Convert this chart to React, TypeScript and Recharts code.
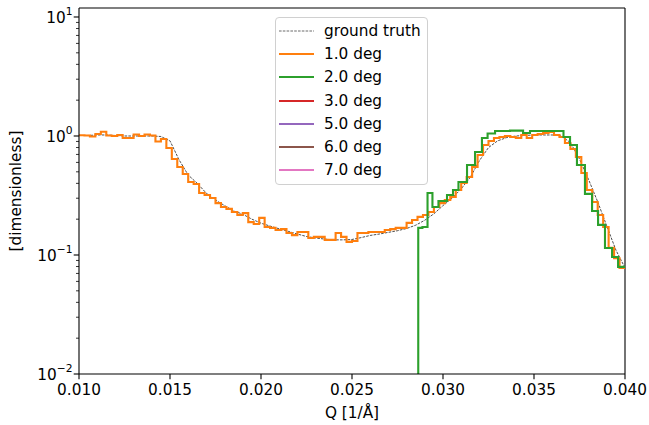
import React from 'react';
import { ComposedChart, Line, XAxis, YAxis, Legend, Label, ReferenceLine } from 'recharts';

const FONT = '"DejaVu Sans", sans-serif';
const FS = 15.3;

// Q axis (1/Å)
const X_TICKS = [0.01, 0.015, 0.02, 0.025, 0.03, 0.035, 0.04];
const X_MIN = 0.01;
const X_MAX = 0.04;
const Y_MIN = 0.01;
const Y_MAX = 11.9;
const Y_MAJOR = [0.01, 0.1, 1, 10];
const Y_MINOR = [
  0.02, 0.03, 0.04, 0.05, 0.06, 0.07, 0.08, 0.09,
  0.2, 0.3, 0.4, 0.5, 0.6, 0.7, 0.8, 0.9,
  2, 3, 4, 5, 6, 7, 8, 9,
];

// ground truth, sampled every 0.0005 from Q = 0.010
const GT_START = 0.01;
const GT_STEP = 0.0005;
const GT_VALUES = [
  1.01, 1.01, 1.02, 1.02, 1.01, 1.0, 1.0, 1.0, 1.0, 0.99,
  0.91, 0.63, 0.47, 0.4, 0.33, 0.29, 0.26, 0.235, 0.22, 0.2,
  0.185, 0.175, 0.166, 0.158, 0.15, 0.143, 0.139, 0.136, 0.134, 0.134,
  0.135, 0.14, 0.146, 0.15, 0.155, 0.16, 0.167, 0.178, 0.196, 0.222,
  0.26, 0.3, 0.36, 0.45, 0.62, 0.8, 0.91, 0.97, 1.0, 1.01,
  1.02, 1.02, 1.02, 1.0, 0.88, 0.64, 0.43, 0.28, 0.175, 0.11,
  0.078,
];

// 1.0 deg reconstruction, histogram bins of 0.0003 starting at Q = 0.010
const DEG1_START = 0.01;
const DEG1_BIN = 0.0003;
const DEG1_VALUES = [
  1.014, 1.01, 0.99, 1.039, 1.087, 1.01, 1.0, 1.019, 0.962, 0.962,
  1.03, 1.0, 1.03, 1.01, 0.899, 0.944, 0.793, 0.641, 0.549, 0.48,
  0.411, 0.395, 0.332, 0.319, 0.301, 0.273, 0.253, 0.244, 0.23, 0.217,
  0.225, 0.189, 0.182, 0.205, 0.172, 0.169, 0.162, 0.165, 0.153, 0.147,
  0.156, 0.156, 0.139, 0.142, 0.142, 0.134, 0.134, 0.153, 0.142, 0.129,
  0.131, 0.153, 0.153, 0.156, 0.156, 0.156, 0.162, 0.165, 0.169, 0.169,
  0.186, 0.197, 0.209, 0.217, 0.23, 0.253, 0.273, 0.29, 0.307, 0.352,
  0.403, 0.452, 0.549, 0.692, 0.84, 0.908, 0.962, 0.981, 1.0, 0.981,
  0.962, 1.019, 0.962, 1.019, 1.039, 1.06, 1.08, 1.019, 0.981, 0.873,
  0.778, 0.666, 0.489, 0.352, 0.279, 0.217, 0.172, 0.115, 0.094, 0.078,
];

// 2.0 deg reconstruction: bin edges and values (starts below the plotted range)
const DEG2_Q = [
  0.02864, 0.02864, 0.02887, 0.02915, 0.02942, 0.02975, 0.03022, 0.03055, 0.03085,
  0.03132, 0.03176, 0.03214, 0.03245, 0.03286, 0.03368, 0.0344, 0.03478, 0.03662,
  0.03698, 0.03736, 0.0378, 0.03819, 0.03852, 0.0389, 0.03929, 0.03962, 0.04,
];
const DEG2_VALUES = [
  0.002, 0.169, 0.172, 0.332, 0.253, 0.284, 0.319, 0.352, 0.411,
  0.571, 0.734, 0.962, 1.05, 1.1, 1.11, 1.06, 1.1, 0.981,
  0.84, 0.571, 0.326, 0.234, 0.179, 0.1145, 0.0962, 0.0794, 0.0794,
];

const SERIES = [
  { name: 'ground truth', color: '#000000', dashed: true },
  { name: '1.0 deg', color: '#ff7f0e' },
  { name: '2.0 deg', color: '#2ca02c' },
  { name: '3.0 deg', color: '#d62728' },
  { name: '5.0 deg', color: '#9467bd' },
  { name: '6.0 deg', color: '#8c564b' },
  { name: '7.0 deg', color: '#e377c2' },
];

const gtData = GT_VALUES.map((v, i) => ({ q: +(GT_START + i * GT_STEP).toFixed(5), v }));
const deg1Data = [
  ...DEG1_VALUES.map((v, i) => ({ q: +(DEG1_START + i * DEG1_BIN).toFixed(5), v })),
  { q: X_MAX, v: DEG1_VALUES[DEG1_VALUES.length - 1] },
];
const deg2Data = DEG2_Q.map((q, i) => ({ q, v: DEG2_VALUES[i] }));

const superscript = (exp: number) => (exp < 0 ? '\u2212' + String(-exp) : String(exp));

const LogTick = (props: any) => {
  const { x, y, payload } = props;
  const v = payload.value as number;
  const lg = Math.log10(v);
  const exp = Math.round(lg);
  const major = Math.abs(lg - exp) < 1e-6;
  return (
    <g>
      <line
        x1={x}
        x2={x - (major ? 5.3 : 3)}
        y1={y}
        y2={y}
        stroke="#000"
        strokeWidth={major ? 1.1 : 0.8}
      />
      {major && (
        <text x={x - 6.5} y={y} dy="0.36em" textAnchor="end" fontFamily={FONT} fill="#000">
          <tspan fontSize={FS}>10</tspan>
          <tspan fontSize={FS * 0.7} dy={-7.5}>{superscript(exp)}</tspan>
        </text>
      )}
    </g>
  );
};

const LegendBox = () => (
  <div
    style={{
      boxSizing: 'border-box',
      width: 153,
      height: 168,
      border: '1px solid #d0d0d0',
      borderRadius: 4,
      background: 'rgba(255,255,255,0.8)',
      paddingTop: 1,
      fontFamily: FONT,
      fontSize: FS,
      color: '#000',
    }}
  >
    {SERIES.map((s) => (
      <div key={s.name} style={{ height: 23.3, display: 'flex', alignItems: 'center' }}>
        <svg width={48} height={10} style={{ flex: 'none' }}>
          <line
            x1={3}
            x2={38}
            y1={5}
            y2={5}
            stroke={s.dashed ? '#444' : s.color}
            strokeWidth={s.dashed ? 0.8 : 2}
            strokeDasharray={s.dashed ? '2.6 1.2' : undefined}
          />
        </svg>
        <span style={{ whiteSpace: 'nowrap' }}>{s.name}</span>
      </div>
    ))}
  </div>
);

export default function App() {
  return (
    <div style={{ position: 'absolute', left: 0, top: 0, background: '#fff' }}>
      <ComposedChart width={649} height={425} margin={{ top: 8, right: 24, left: 0, bottom: 0 }}>
        <XAxis
          dataKey="q"
          type="number"
          domain={[X_MIN, X_MAX]}
          ticks={X_TICKS}
          allowDataOverflow
          interval={0}
          tickFormatter={(v: number) => v.toFixed(3)}
          height={51}
          tickSize={5.3}
          tickMargin={5}
          stroke="#000"
          tick={{ fill: '#000', fontSize: FS, fontFamily: FONT }}
          axisLine={{ stroke: '#000', strokeWidth: 1.1 }}
          tickLine={{ stroke: '#000', strokeWidth: 1.1 }}
        >
          <Label
            content={() => (
              <text x={352} y={413} textAnchor="middle" dominantBaseline="central" fontFamily={FONT} fontSize={FS} fill="#000">
                Q [1/Å]
              </text>
            )}
          />
        </XAxis>
        <YAxis
          type="number"
          scale="log"
          domain={[Y_MIN, Y_MAX]}
          allowDataOverflow
          ticks={[...Y_MAJOR, ...Y_MINOR].sort((a, b) => a - b)}
          interval={0}
          width={79}
          tickSize={0}
          tickMargin={0}
          tick={<LogTick />}
          tickLine={false}
          axisLine={{ stroke: '#000', strokeWidth: 1.1 }}
        >
          <Label
            content={() => (
              <text
                x={16}
                y={191}
                textAnchor="middle"
                dominantBaseline="central"
                transform="rotate(-90 16 191)"
                fontFamily={FONT}
                fontSize={FS}
                fill="#000"
              >
                [dimensionless]
              </text>
            )}
          />
        </YAxis>
        {/* frame: top and right spines */}
        <ReferenceLine y={Y_MAX} stroke="#000" strokeWidth={1.1} ifOverflow="extendDomain" />
        <ReferenceLine x={X_MAX} stroke="#000" strokeWidth={1.1} ifOverflow="extendDomain" />
        <Line
          data={gtData}
          dataKey="v"
          name="ground truth"
          type="linear"
          stroke="#000"
          strokeWidth={0.7}
          strokeDasharray="2.6 1.2"
          dot={false}
          activeDot={false}
          isAnimationActive={false}
        />
        <Line
          data={deg1Data}
          dataKey="v"
          name="1.0 deg"
          type="stepAfter"
          stroke="#ff7f0e"
          strokeWidth={2.1}
          dot={false}
          activeDot={false}
          isAnimationActive={false}
        />
        <Line
          data={deg2Data}
          dataKey="v"
          name="2.0 deg"
          type="stepAfter"
          stroke="#2ca02c"
          strokeWidth={2.1}
          dot={false}
          activeDot={false}
          isAnimationActive={false}
        />
        <Legend
          layout="vertical"
          align="center"
          verticalAlign="middle"
          content={() => <LegendBox />}
          wrapperStyle={{ left: 275, top: 17, width: 153, height: 168 }}
        />
      </ComposedChart>
    </div>
  );
}
